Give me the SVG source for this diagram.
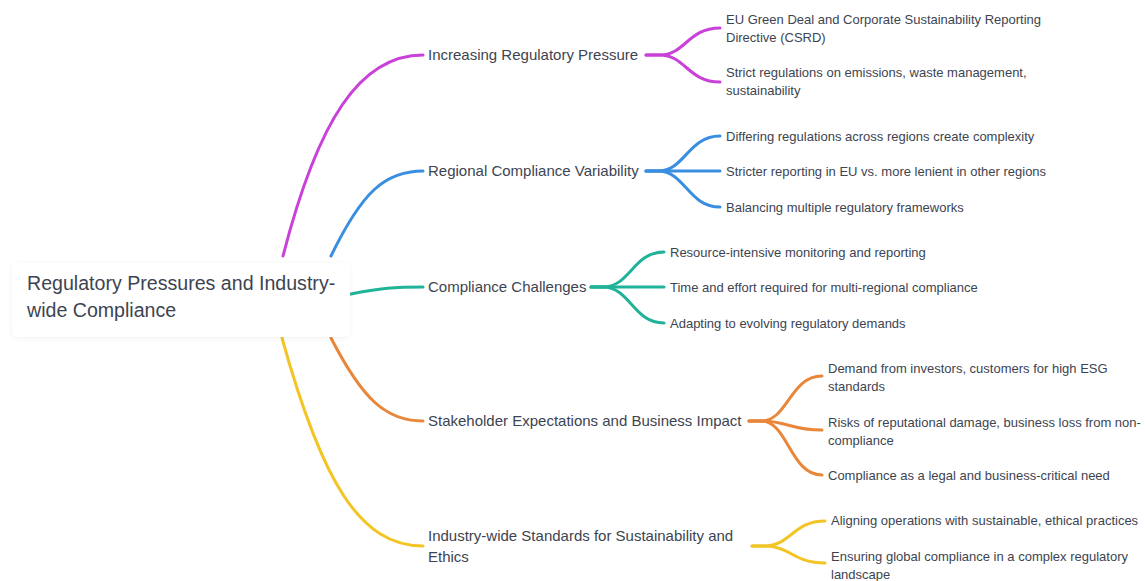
<svg xmlns="http://www.w3.org/2000/svg" width="1145" height="581" viewBox="0 0 1145 581">
<defs>
<style>
.t{font-family:"Liberation Sans",Arial,sans-serif;fill:#3d4451}
.root{font-size:19.6px}
.br{font-size:15px}
.lf{font-size:13px}
.c{fill:none;stroke-width:3;stroke-linecap:round}
.p{stroke:#c941d9}.b{stroke:#3a8ee0}.g{stroke:#20b39a}.o{stroke:#e8863a}.y{stroke:#f2c525}
</style>
<filter id="sh" x="-10%" y="-20%" width="120%" height="140%"><feDropShadow dx="0" dy="1" stdDeviation="2" flood-color="#000" flood-opacity="0.06"/></filter>
</defs>
<rect width="1145" height="581" fill="#ffffff"/>
<g id="connectors">
<path class="c p" d="M283,256 C318,120 360,55 423,55"/>
<path class="c b" d="M331,256 C362,192 385,171 423,171"/>
<path class="c g" d="M351,294 C380,288 395,287 423,287"/>
<path class="c o" d="M331,338 C362,398 385,421 423,421"/>
<path class="c y" d="M282,338 C322,482 360,546 423,546"/>
<path class="c p" d="M646,55 L660,55 C685,55 688,28 720,28"/>
<path class="c p" d="M646,55 L660,55 C685,55 688,82 720,82"/>
<path class="c b" d="M646,171 L658,171 C685,171 688,136 720,136"/>
<path class="c b" d="M646,171 L720,171"/>
<path class="c b" d="M646,171 L658,171 C685,171 688,207 720,207"/>
<path class="c g" d="M591,287 L603,287 C630,287 633,252 664,252"/>
<path class="c g" d="M591,287 L664,287"/>
<path class="c g" d="M591,287 L603,287 C630,287 633,323 664,323"/>
<path class="c o" d="M749,421 L761,421 C788,421 790,376 822,376"/>
<path class="c o" d="M749,421 L761,421 C788,421 790,430 822,430"/>
<path class="c o" d="M749,421 L761,421 C788,421 790,475 822,475"/>
<path class="c y" d="M752,546 L764,546 C791,546 793,521 825,521"/>
<path class="c y" d="M752,546 L764,546 C791,546 793,563 825,563"/>
</g>
<g id="root">
<rect x="12" y="263" width="338" height="74" rx="6" fill="#ffffff" filter="url(#sh)"/>
<text class="t root" x="27" y="290">Regulatory Pressures and Industry-</text>
<text class="t root" x="27" y="317">wide Compliance</text>
</g>
<g id="b1">
<text class="t br" x="428" y="60">Increasing Regulatory Pressure</text>
</g>
<g id="b1l1"><text class="t lf" x="726" y="24">EU Green Deal and Corporate Sustainability Reporting</text><text class="t lf" x="726" y="42">Directive (CSRD)</text></g>
<g id="b1l2"><text class="t lf" x="726" y="77">Strict regulations on emissions, waste management,</text><text class="t lf" x="726" y="95">sustainability</text></g>
<g id="b2">
<text class="t br" x="428" y="176">Regional Compliance Variability</text>
</g>
<g id="b2l1"><text class="t lf" x="726" y="141">Differing regulations across regions create complexity</text></g>
<g id="b2l2"><text class="t lf" x="726" y="176">Stricter reporting in EU vs. more lenient in other regions</text></g>
<g id="b2l3"><text class="t lf" x="726" y="212">Balancing multiple regulatory frameworks</text></g>
<g id="b3">
<text class="t br" x="428" y="292">Compliance Challenges</text>
</g>
<g id="b3l1"><text class="t lf" x="670" y="257">Resource-intensive monitoring and reporting</text></g>
<g id="b3l2"><text class="t lf" x="670" y="292">Time and effort required for multi-regional compliance</text></g>
<g id="b3l3"><text class="t lf" x="670" y="328">Adapting to evolving regulatory demands</text></g>
<g id="b4">
<text class="t br" x="428" y="426">Stakeholder Expectations and Business Impact</text>
</g>
<g id="b4l1"><text class="t lf" x="828" y="373">Demand from investors, customers for high ESG</text><text class="t lf" x="828" y="391">standards</text></g>
<g id="b4l2"><text class="t lf" x="828" y="427">Risks of reputational damage, business loss from non-</text><text class="t lf" x="828" y="445">compliance</text></g>
<g id="b4l3"><text class="t lf" x="828" y="480">Compliance as a legal and business-critical need</text></g>
<g id="b5">
<text class="t br" x="428" y="541">Industry-wide Standards for Sustainability and</text>
<text class="t br" x="428" y="562">Ethics</text>
</g>
<g id="b5l1"><text class="t lf" x="831" y="525">Aligning operations with sustainable, ethical practices</text></g>
<g id="b5l2"><text class="t lf" x="831" y="561">Ensuring global compliance in a complex regulatory</text><text class="t lf" x="831" y="579">landscape</text></g>
</svg>
